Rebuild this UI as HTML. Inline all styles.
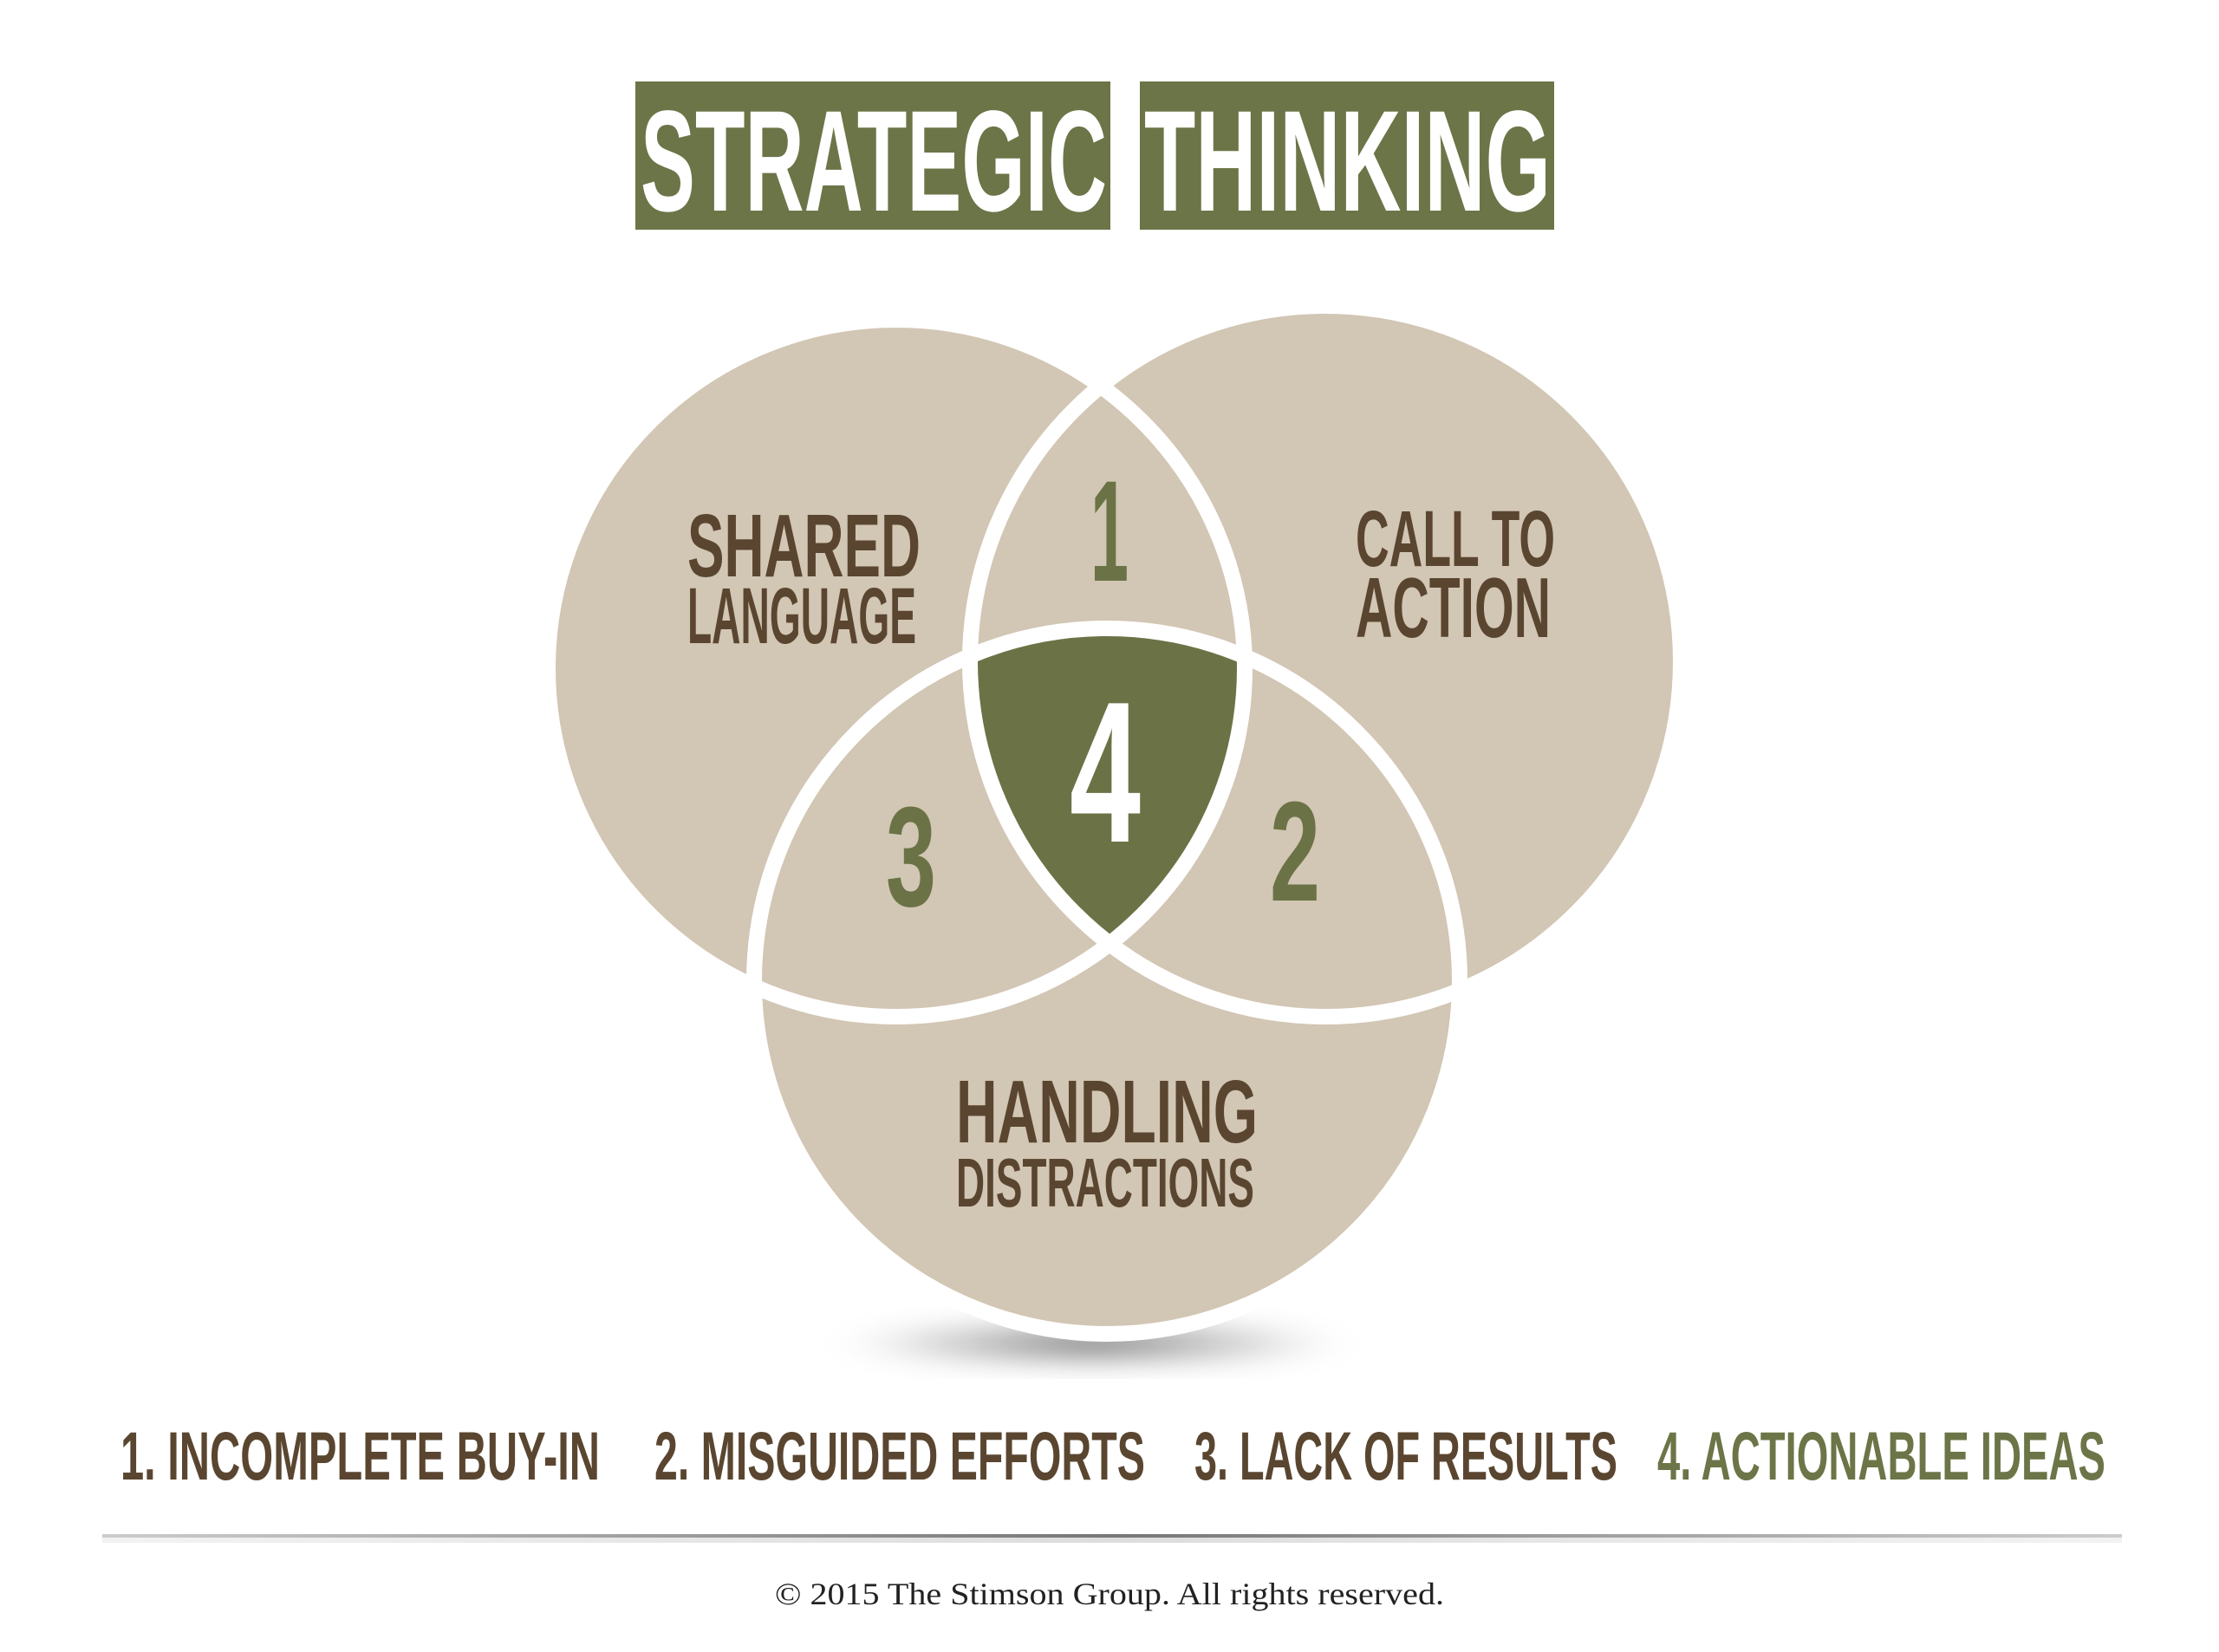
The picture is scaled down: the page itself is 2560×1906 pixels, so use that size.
<!DOCTYPE html>
<html><head><meta charset="utf-8"><style>
html,body{margin:0;padding:0;background:#fff;}
svg{display:block;}
</style></head><body>
<svg width="2560" height="1906" viewBox="0 0 2560 1906" xmlns="http://www.w3.org/2000/svg">
<defs>
  <radialGradient id="sh" cx="50%" cy="50%" r="50%">
    <stop offset="0" stop-color="#555" stop-opacity="0.9"/>
    <stop offset="0.6" stop-color="#999" stop-opacity="0.4"/>
    <stop offset="1" stop-color="#fff" stop-opacity="0"/>
  </radialGradient>
  <linearGradient id="ln" x1="0" x2="1" y1="0" y2="0">
    <stop offset="0" stop-color="#ccc"/>
    <stop offset="0.5" stop-color="#777"/>
    <stop offset="1" stop-color="#ccc"/>
  </linearGradient>
  <clipPath id="cL"><circle cx="1034" cy="771" r="402"/></clipPath>
  <clipPath id="cR"><circle cx="1529" cy="763" r="410"/></clipPath>
  <filter id="bl"><feGaussianBlur stdDeviation="14"/></filter>
</defs>

<!-- title -->
<rect x="733" y="94" width="548" height="171" fill="#6b7547"/>
<rect x="1315" y="94" width="478" height="171" fill="#6b7547"/>
<g font-family="Liberation Sans, sans-serif" font-weight="bold" fill="#fff" font-size="166">
  <text x="739" y="243" textLength="538" lengthAdjust="spacingAndGlyphs">STRATEGIC</text>
  <text x="1320" y="243" textLength="469" lengthAdjust="spacingAndGlyphs">THINKING</text>
</g>

<!-- shadow -->
<ellipse cx="1260" cy="1550" rx="330" ry="34" fill="url(#sh)" filter="url(#bl)"/>

<!-- circles -->
<g fill="#d2c6b4">
  <circle cx="1034" cy="771" r="402"/>
  <circle cx="1529" cy="763" r="410"/>
  <circle cx="1277" cy="1132" r="407"/>
</g>
<!-- center green -->
<g clip-path="url(#cL)"><g clip-path="url(#cR)">
  <circle cx="1277" cy="1132" r="407" fill="#6b7346"/>
</g></g>
<!-- white rings -->
<g fill="none" stroke="#fff" stroke-width="18">
  <circle cx="1034" cy="771" r="402"/>
  <circle cx="1529" cy="763" r="410"/>
  <circle cx="1277" cy="1132" r="407"/>
</g>

<!-- labels -->
<g font-family="Liberation Sans, sans-serif" font-weight="bold" fill="#5a4630">
  <text x="793" y="665" font-size="103" textLength="269" lengthAdjust="spacingAndGlyphs">SHARED</text>
  <text x="793" y="742" font-size="92" textLength="264" lengthAdjust="spacingAndGlyphs">LANGUAGE</text>
  <text x="1564" y="653" font-size="92" textLength="230" lengthAdjust="spacingAndGlyphs">CALL TO</text>
  <text x="1564" y="735" font-size="98" textLength="225" lengthAdjust="spacingAndGlyphs">ACTION</text>
  <text x="1103" y="1318" font-size="103" textLength="348" lengthAdjust="spacingAndGlyphs">HANDLING</text>
  <text x="1103" y="1392" font-size="80" textLength="344" lengthAdjust="spacingAndGlyphs">DISTRACTIONS</text>
</g>
<g font-family="Liberation Sans, sans-serif" font-weight="bold" fill="#6b7346">
  <text x="1258" y="670" font-size="166" textLength="44" lengthAdjust="spacingAndGlyphs">1</text>
  <text x="1022" y="1045" font-size="164" textLength="58" lengthAdjust="spacingAndGlyphs">3</text>
  <text x="1465" y="1039" font-size="164" textLength="58" lengthAdjust="spacingAndGlyphs">2</text>
  <text x="1234" y="971" font-size="232" fill="#fff" textLength="82" lengthAdjust="spacingAndGlyphs">4</text>
</g>

<!-- bottom legend -->
<g font-family="Liberation Sans, sans-serif" font-weight="bold" font-size="79" fill="#5a4630">
  <text x="139" y="1707" textLength="553" lengthAdjust="spacingAndGlyphs">1. INCOMPLETE BUY-IN</text>
  <text x="755" y="1707" textLength="566" lengthAdjust="spacingAndGlyphs">2. MISGUIDED EFFORTS</text>
  <text x="1378" y="1707" textLength="488" lengthAdjust="spacingAndGlyphs">3. LACK OF RESULTS</text>
  <text x="1912" y="1707" fill="#6b7547" textLength="517" lengthAdjust="spacingAndGlyphs">4. ACTIONABLE IDEAS</text>
</g>

<rect x="118" y="1770" width="2330" height="4" fill="url(#ln)"/>
<rect x="118" y="1774" width="2330" height="6" fill="url(#ln)" opacity="0.25"/>

<text x="1280" y="1851" text-anchor="middle" font-family="Liberation Serif, serif" font-size="36" fill="#222" textLength="772" lengthAdjust="spacingAndGlyphs">© 2015 The Stimson Group.  All rights reserved.</text>
</svg>
</body></html>
